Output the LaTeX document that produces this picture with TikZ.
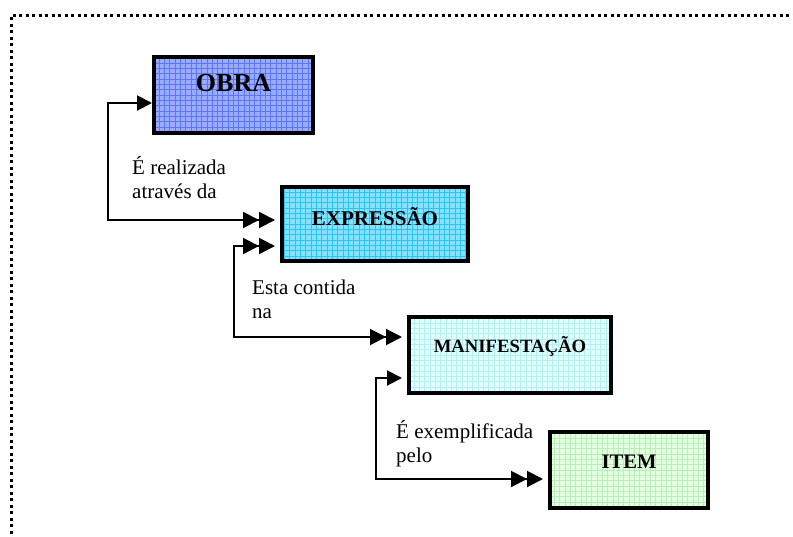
\documentclass[tikz,border=0pt]{standalone}
\usepackage{fontspec}
\setmainfont{Liberation Serif}
\usetikzlibrary{arrows.meta}
\definecolor{obrafill}{HTML}{9BAAFF}
\definecolor{obragrid}{HTML}{5A78F0}
\definecolor{exprfill}{HTML}{84E2FF}
\definecolor{exprgrid}{HTML}{2EC4F2}
\definecolor{maniffill}{HTML}{E2FFFF}
\definecolor{manifgrid}{HTML}{B2F0F2}
\definecolor{itemfill}{HTML}{E2FFE0}
\definecolor{itemgrid}{HTML}{B8EEB8}
\tikzset{
  gridbox/.style 2 args={draw=black, line width=4pt, fill=#1, inner sep=0pt,
    path picture={\draw[#2, line width=0.7pt, step=5.33pt]
      (path picture bounding box.south west) grid (path picture bounding box.north east);}},
  boxtext/.style={font=\bfseries, inner sep=0pt},
  lbl/.style={font=\fontsize{21}{23.5}\selectfont, align=left, inner sep=0pt, anchor=base west},
  conn/.style={line width=2pt},
  single/.tip={Triangle[length=15pt,width=15pt]},
  double/.tip={Triangle[length=16pt,width=16pt] Triangle[length=16pt,width=16pt]},
  dotborder/.style={line width=3pt, dash pattern=on 3pt off 3.5pt}
}
\begin{document}
\begin{tikzpicture}[x=1pt,y=-1pt]
\useasboundingbox (0,0) rectangle (793,536);
\draw[dotborder] (11,540) -- (11,15) -- (800,15);

\node[gridbox={obrafill}{obragrid}, minimum width=159pt, minimum height=76pt] (obra) at (233.5,95) {};
\node[gridbox={exprfill}{exprgrid}, minimum width=186pt, minimum height=74pt] (expr) at (375,224) {};
\node[gridbox={maniffill}{manifgrid}, minimum width=202pt, minimum height=76pt] (manif) at (510,355) {};
\node[gridbox={itemfill}{itemgrid}, minimum width=158pt, minimum height=76pt] (item) at (629,470) {};

\node[boxtext, font=\fontsize{26}{30}\selectfont\bfseries] (tobra) at ([yshift=12pt]obra.center) {OBRA};
\node[boxtext, font=\fontsize{21}{25}\selectfont\bfseries] (texpr) at ([yshift=7pt]expr.center) {EXPRESSÃO};
\node[boxtext, font=\fontsize{18.7}{22}\selectfont\bfseries] (tmanif) at ([yshift=9pt]manif.center) {MANIFESTAÇÃO};
\node[boxtext, font=\fontsize{20.6}{24}\selectfont\bfseries] (titem) at ([yshift=8pt]item.center) {ITEM};

\coordinate (c1) at (108,220);
\coordinate (c2) at (234,337);
\coordinate (c3) at (376,479);

\draw[conn, single-double] ([yshift=-8pt]obra.west) -| (c1) -- ([xshift=-5pt,yshift=4pt]expr.west);
\draw[conn, double-double] ([xshift=-5pt,yshift=-22pt]expr.west) -| (c2) -- ([xshift=-5pt,yshift=18pt]manif.west);
\draw[conn, single-double] ([xshift=-5pt,yshift=-23pt]manif.west) -| (c3) -- ([xshift=-5pt,yshift=-9pt]item.west);

\node[lbl] (lab1) at (132,198) {É realizada\\através da};
\node[lbl] (lab2) at (252,318) {Esta contida\\na};
\node[lbl] (lab3) at (396,462) {É exemplificada\\pelo};
\end{tikzpicture}
\end{document}
